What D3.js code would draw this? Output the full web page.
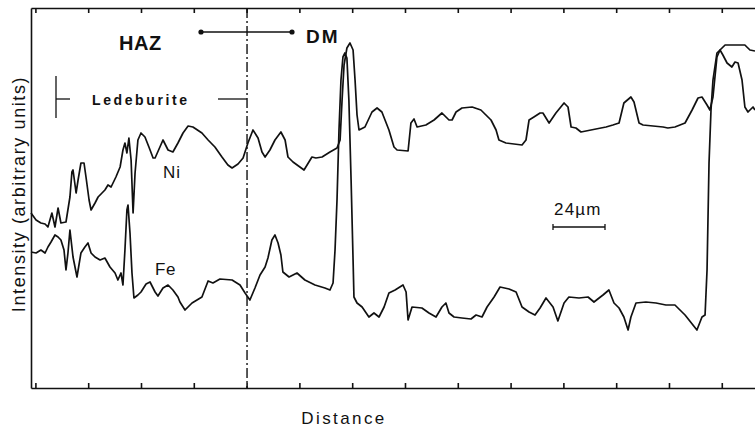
<!DOCTYPE html>
<html>
<head>
<meta charset="utf-8">
<script src="https://cdn.jsdelivr.net/npm/d3@7"></script>
<style>
  body { margin: 0; background: #fff; }
  svg { display: block; }
  .axis path, .axis line { stroke: #111; stroke-width: 1.6; }
  .trace { fill: none; stroke: #111; stroke-width: 1.7; stroke-linejoin: round; }
  text { font-family: "Liberation Sans", Arial, sans-serif; fill: #111; }
</style>
</head>
<body>
<div class="chart"></div>
<script>
// distance in µm, intensity in arbitrary units
var niDistance = [0, 2.3, 4.5, 6.4, 7.7, 9.5, 10.9, 12.3, 13.6, 15.9, 17.7, 18.6, 19.1, 20.5, 21.4, 22.7, 24.1, 25.0, 26.4, 27.3,
  29.1, 30.5, 33.6, 35.0, 36.4, 38.6, 40.5, 41.8, 42.7, 43.6, 44.5, 45.5, 46.4, 47.3, 48.6, 50.0, 51.8, 53.6, 55.5, 56.4,
  58.6, 60.0, 62.3, 64.5, 66.8, 69.1, 71.4, 73.6, 77.7, 80.5, 83.6, 86.8, 89.5, 91.4, 94.1, 96.4, 98.6, 100.9, 103.2, 105.0,
  106.4, 108.6, 110.9, 113.6, 115.5, 116.8, 119.1, 124.1, 127.7, 129.5, 132.3, 135.9, 139.1, 140.5, 141.4, 142.3, 143.6, 145.0, 146.4, 147.3,
  148.2, 149.1, 151.8, 155.0, 157.3, 159.5, 162.7, 165.0, 166.4, 171.4, 172.7, 174.1, 175.5, 179.5, 183.2, 186.8, 190.0, 191.4, 193.2, 195.9,
  200.5, 204.5, 209.1, 211.4, 212.7, 215.9, 223.2, 225.0, 226.4, 228.6, 231.4, 232.7, 235.5, 238.6, 242.3, 244.1, 245.5, 247.7, 250.0, 256.8,
  261.4, 264.5, 267.3, 269.5, 272.7, 274.1, 276.4, 278.2, 287.3, 289.5, 292.7, 297.3, 300.5, 303.2, 305.0, 307.3, 308.6, 310.0, 311.8, 313.2,
  315.5, 320.0, 324.5, 326.8, 329.1];
var niIntensity = [175, 168, 165, 164, 161, 175, 161, 180, 165, 166, 191, 216, 218, 195, 208, 225, 225, 211, 188, 178,
  185, 191, 198, 203, 201, 211, 221, 238, 245, 235, 250, 228, 175, 215, 248, 255, 251, 241, 230, 230,
  241, 248, 238, 236, 245, 255, 262, 261, 255, 248, 241, 231, 223, 220, 224, 230, 245, 258, 250, 236,
  231, 238, 248, 256, 248, 231, 226, 218, 231, 230, 231, 236, 240, 248, 288, 323, 340, 345, 338, 308,
  273, 258, 261, 276, 280, 276, 258, 241, 238, 237, 265, 269, 261, 263, 268, 275, 268, 268, 276, 280,
  281, 278, 268, 258, 248, 245, 243, 248, 268, 271, 275, 275, 265, 275, 285, 281, 261, 260, 256, 259,
  261, 263, 265, 285, 291, 286, 265, 263, 261, 260, 261, 265, 278, 290, 291, 283, 278, 291, 331, 338,
  343, 343, 343, 338, 337];

var feDistance = [0, 2.3, 4.5, 6.4, 7.7, 9.1, 10.9, 12.3, 13.6, 15.0, 15.9, 16.8, 17.7, 19.1, 20.9, 22.7, 24.5, 25.9, 27.3, 29.1,
  31.4, 33.6, 35.9, 38.2, 39.5, 40.9, 41.8, 42.7, 43.6, 44.1, 45.0, 45.9, 46.8, 48.6, 50.0, 52.3, 54.1, 56.4, 57.7, 60.0,
  62.3, 64.5, 66.8, 67.7, 70.0, 73.2, 77.7, 80.5, 82.7, 85.9, 91.4, 95.0, 97.3, 99.5, 101.8, 104.1, 106.4, 107.7, 109.5, 110.9,
  112.3, 113.6, 114.5, 117.3, 120.9, 124.5, 129.1, 133.6, 135.9, 137.3, 138.2, 139.1, 140.0, 140.9, 141.8, 142.7, 143.6, 144.5, 145.5, 146.4,
  146.8, 148.2, 150.5, 153.6, 155.9, 158.2, 160.5, 162.7, 165.5, 169.1, 170.5, 171.4, 173.2, 177.7, 180.9, 184.1, 186.8, 188.6, 190.0, 192.3,
  195.9, 200.0, 202.3, 205.0, 207.3, 210.5, 213.2, 217.3, 220.5, 223.2, 226.4, 229.1, 231.4, 234.1, 237.3, 239.5, 242.3, 244.5, 249.1, 253.2,
  255.9, 260.0, 262.7, 265.0, 267.3, 269.5, 271.4, 272.7, 275.0, 279.5, 284.1, 288.6, 292.7, 297.3, 302.7, 305.0, 306.4, 307.3, 308.2, 309.1,
  310.0, 311.8, 313.2, 314.5, 316.4, 318.6, 320.0, 321.4, 323.2, 324.5, 325.9, 328.2, 329.1];
var feIntensity = [136, 135, 138, 135, 141, 146, 153, 151, 148, 138, 118, 135, 158, 131, 111, 135, 141, 145, 135, 131,
  128, 130, 121, 115, 108, 115, 103, 138, 178, 183, 155, 115, 90, 93, 96, 104, 106, 96, 92, 100,
  103, 98, 91, 86, 78, 85, 91, 107, 105, 109, 108, 103, 95, 88, 100, 113, 121, 130, 148, 153,
  145, 133, 116, 111, 115, 108, 103, 100, 98, 105, 138, 188, 258, 308, 331, 335, 330, 288, 208, 128,
  91, 85, 81, 71, 75, 71, 81, 95, 98, 103, 96, 68, 81, 80, 75, 71, 81, 85, 75, 71,
  70, 69, 73, 71, 81, 91, 101, 99, 96, 81, 76, 73, 80, 90, 81, 67, 85, 91, 90, 91,
  86, 93, 98, 85, 80, 71, 58, 71, 85, 86, 85, 83, 83, 73, 58, 71, 73, 118, 225, 278,
  308, 335, 338, 333, 325, 321, 326, 325, 308, 281, 276, 281, 278];

var distanceTicks = [2, 26, 50, 74, 98, 122, 146, 170, 194, 218, 242, 266, 290, 314];
var boundary = 98.2; // HAZ / DM interface

var niData = niDistance.map((d, i) => ({ d: d, v: niIntensity[i] }));
var feData = feDistance.map((d, i) => ({ d: d, v: feIntensity[i] }));

var width = 755, height = 431;
var margin = { top: 8, right: 0, bottom: 43, left: 31 };

var xScale = d3.scaleLinear()
    .domain([0, 329.1])
    .range([margin.left, width - margin.right]);

var yScale = d3.scaleLinear()
    .domain([0, 380])
    .range([height - margin.bottom, margin.top]);

var svg = d3.select(".chart").append("svg")
    .attr("width", width)
    .attr("height", height);

// frame with tick marks on top and bottom
svg.append("g")
    .attr("class", "axis")
    .attr("transform", "translate(0," + yScale(0) + ")")
    .call(d3.axisBottom(xScale).tickValues(distanceTicks).tickSize(-5).tickSizeOuter(0).tickFormat(""));

svg.append("g")
    .attr("class", "axis")
    .attr("transform", "translate(0," + yScale(380) + ")")
    .call(d3.axisTop(xScale).tickValues(distanceTicks).tickSize(-5).tickSizeOuter(0).tickFormat(""));

svg.append("g")
    .attr("class", "axis")
    .attr("transform", "translate(" + xScale(0) + ",0)")
    .call(d3.axisLeft(yScale).tickValues([]).tickSizeOuter(0));

// dash-dot interface line
svg.append("line")
    .attr("x1", xScale(boundary)).attr("x2", xScale(boundary))
    .attr("y1", yScale(380)).attr("y2", yScale(0))
    .attr("stroke", "#111")
    .attr("stroke-width", 1.4)
    .attr("stroke-dasharray", "10,3,2,3");

var line = d3.line()
    .x(d => xScale(d.d))
    .y(d => yScale(d.v));

svg.append("path").datum(niData).attr("class", "trace").attr("d", line);
svg.append("path").datum(feData).attr("class", "trace").attr("d", line);

// annotations
svg.append("text").attr("x", 119).attr("y", 50)
    .attr("font-size", 20).attr("font-weight", "bold").attr("letter-spacing", 0.5).text("HAZ");
svg.append("text").attr("x", 306).attr("y", 43)
    .attr("font-size", 19).attr("font-weight", "bold").attr("letter-spacing", 2).text("DM");

svg.append("line").attr("x1", 201).attr("x2", 292).attr("y1", 32).attr("y2", 32)
    .attr("stroke", "#111").attr("stroke-width", 1.6);
svg.selectAll(".tip").data([201, 292]).enter().append("circle")
    .attr("cx", d => d).attr("cy", 32).attr("r", 2.6).attr("fill", "#111");

// Ledeburite bracket
svg.append("line").attr("x1", 56).attr("x2", 56).attr("y1", 76).attr("y2", 118)
    .attr("stroke", "#111").attr("stroke-width", 1.3);
svg.append("line").attr("x1", 56).attr("x2", 70).attr("y1", 99).attr("y2", 99)
    .attr("stroke", "#111").attr("stroke-width", 1.3);
svg.append("line").attr("x1", 218).attr("x2", xScale(boundary)).attr("y1", 99).attr("y2", 99)
    .attr("stroke", "#111").attr("stroke-width", 1.3);
svg.append("text").attr("x", 92).attr("y", 105)
    .attr("font-size", 14).attr("font-weight", "bold").attr("letter-spacing", 2.6).text("Ledeburite");

svg.append("text").attr("x", 163).attr("y", 178).attr("font-size", 17).attr("letter-spacing", 1).text("Ni");
svg.append("text").attr("x", 155).attr("y", 275).attr("font-size", 17).attr("letter-spacing", 0.5).text("Fe");

// scale bar
svg.append("text").attr("x", 554).attr("y", 215).attr("font-size", 17).attr("letter-spacing", 1.2).text("24\u00b5m");
svg.append("line").attr("x1", 553).attr("x2", 605).attr("y1", 227).attr("y2", 227)
    .attr("stroke", "#111").attr("stroke-width", 1.5);
svg.selectAll(".bar-end").data([553, 605]).enter().append("line")
    .attr("x1", d => d).attr("x2", d => d).attr("y1", 224).attr("y2", 230)
    .attr("stroke", "#111").attr("stroke-width", 1.3);

// axis titles
svg.append("text")
    .attr("transform", "translate(25,194) rotate(-90)")
    .attr("text-anchor", "middle")
    .attr("font-size", 18)
    .attr("letter-spacing", 1.6)
    .text("Intensity (arbitrary units)");

svg.append("text")
    .attr("x", 344).attr("y", 424)
    .attr("text-anchor", "middle")
    .attr("font-size", 17)
    .attr("letter-spacing", 2.4)
    .text("Distance");
</script>
</body>
</html>
